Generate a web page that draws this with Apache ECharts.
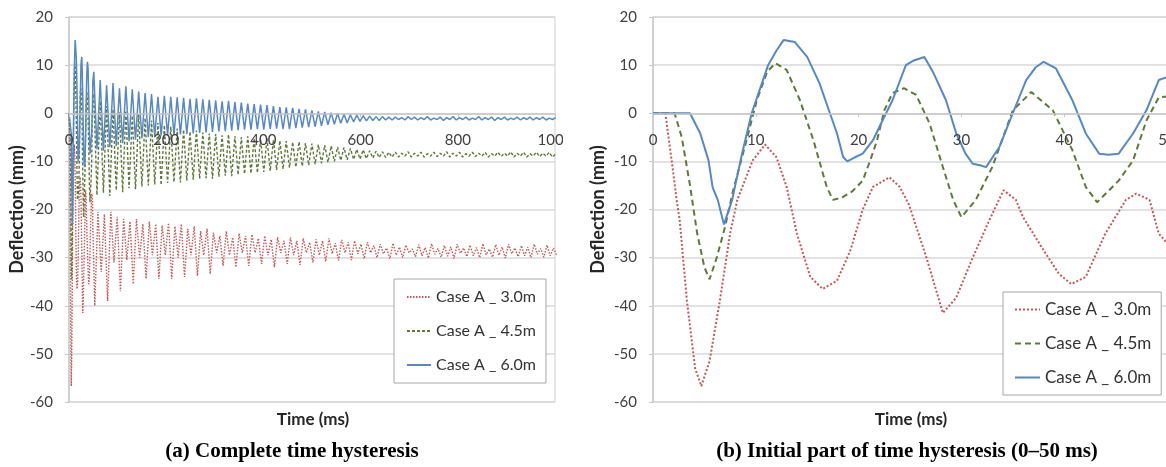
<!DOCTYPE html>
<html><head><meta charset="utf-8">
<script src="https://cdn.jsdelivr.net/npm/echarts/dist/echarts.min.js"></script>
<style>
html,body{margin:0;padding:0;width:1166px;height:467px;overflow:hidden;background:#fff;}
#a{position:absolute;left:0;top:0;width:563px;height:467px;}
#b{position:absolute;left:563px;top:0;width:617px;height:467px;}
</style></head><body>
<div id="a"></div><div id="b"></div>
<script>
// ---- data: series names ----
const seriesNames = ['Case A _ 3.0m', 'Case A _ 4.5m', 'Case A _ 6.0m'];
const yTicks = [-60, -50, -40, -30, -20, -10, 0, 10, 20];
const xTicksLong = [0, 200, 400, 600, 800, 1000];
const xTicksShort = [0, 10, 20, 30, 40, 50];
const captionA = '(a) Complete time hysteresis';
const captionB = '(b) Initial part of time hysteresis (0\u201350 ms)';

// ---- first 50 ms, [time ms, deflection mm] ----
const red50 = [[0,0],[1.2,0],[1.9,-11.2],[2.3,-18],[2.6,-22.3],[3.3,-39],[4.1,-53],[4.7,-56.7],[5.5,-51.5],[6.5,-39],[7.5,-25],[8.2,-18],[9.7,-9.8],[10.9,-6.5],[12,-9.1],[13,-15.3],[14,-25],[15.3,-34],[16.5,-36.5],[17.9,-34.8],[19.2,-28.5],[20.4,-20],[21.4,-15.3],[23,-13.3],[24,-15.3],[24.9,-19],[26.6,-30],[28.2,-41.5],[29.5,-38.3],[31.1,-30],[32.7,-22.3],[34.1,-16],[35.3,-18],[36,-21.6],[38,-28.5],[39.5,-33.4],[40.7,-35.5],[42.1,-34],[44,-25],[46,-18],[47,-16.7],[48.3,-18],[49.2,-25],[50,-27]];
const green50 = [[0,0],[2.1,0],[2.8,-5],[3.6,-15],[4.3,-25],[5.0,-32],[5.5,-34.5],[6.2,-30],[7.0,-23.7],[7.8,-16],[9.1,-5.6],[10.1,2.7],[11.1,8.6],[11.9,10.4],[13.0,9],[14.3,2.7],[15.6,-5.6],[16.9,-15.3],[17.5,-18],[18.4,-17.5],[19.4,-16.2],[20.4,-14],[21.1,-10],[21.8,-5.6],[22.5,0.6],[23.3,4.2],[24.4,5.2],[25.6,3.8],[26.9,-2.1],[28.2,-11.2],[29.2,-18],[30,-21.6],[31.4,-18],[33,-11.2],[35,0.6],[36.8,4.4],[38.9,0.6],[40.8,-7.7],[42.1,-15.3],[43.2,-18.5],[45.3,-14],[46.7,-9.8],[48,-1.5],[49.2,3.3],[50,3.5]];
const blue50 = [[0,0],[3.6,0],[4.6,-4.2],[5.4,-9.8],[5.8,-15.4],[6.3,-18],[6.9,-23.1],[7.7,-18],[8.6,-9],[9.6,0],[10.4,5],[11.2,10],[12.0,13],[12.7,15.2],[13.8,14.8],[15.0,11.7],[16.2,6.2],[17.0,1.3],[17.9,-4.2],[18.5,-9.1],[18.9,-10],[19.6,-9.2],[20.4,-8.4],[21.4,-5.6],[22.1,-2.5],[23.3,2.7],[24.6,10],[25.3,10.9],[26.4,11.7],[27.3,8.3],[28.5,2.7],[29.5,-4.2],[30.4,-8.4],[31.1,-10.5],[31.8,-10.8],[32.4,-11.2],[33.7,-7],[35.0,0],[36.3,6.9],[37.2,9.5],[38.0,10.7],[39.2,9.3],[40.8,2.7],[42.1,-4.2],[43.4,-8.4],[44.3,-8.6],[45.3,-8.4],[46.7,-4.2],[48.0,0.6],[49.2,6.9],[50,7.5]];

// ---- after 50 ms: successive extremes (half-cycle samples) ----
const halfCycleMs = 6.6;
const redStartMs = 53, greenStartMs = 51, blueStartMs = 51;
const redLong = [-40.0,-20.5,-33.0,-21.0,-39.0,-20.5,-31.0,-21.5,-37.0,-22.0,-30.5,-22.5,-35.5,-22.0,-30.0,-23.0,-34.4,-22.5,-29.5,-23.0,
 -34.4,-23.3,-29.5,-22.8,-34.4,-23.5,-30.0,-23.0,-34.0,-24.0,-29.5,-23.5,-33.8,-24.5,-29.5,-24.0,-33.4,-24.8,-29.0,-25.5,
 -31.7,-24.5,-29.5,-25.8,-32.0,-25.0,-29.0,-25.5,-31.7,-25.2,-29.0,-26.0,-31.3,-25.5,-29.5,-26.2,-32.0,-25.8,-29.0,-26.5,
 -31.3,-25.8,-29.5,-26.5,-31.5,-26.0,-29.0,-26.8,-31.0,-26.2,-29.5,-26.5,-30.8,-26.0,-29.2,-27.0,-30.6,-26.3,-29.0,-26.8,
 -30.5,-26.5,-29.2,-27.2,-30.2,-26.8,-29.0,-27.5,-30.0,-27.2,-29.2,-28.0,-30.2,-27.0,-29.5,-27.8,-30.0,-27.4,-29.0,-28.2,
 -29.8,-27.3,-29.6,-27.9,-30.1,-27.1,-29.3,-28.1,-29.9,-27.5,-29.7,-27.8,-30.2,-27.2,-29.1,-28.0,-29.8,-27.4,-29.6,-27.9,
 -30.0,-27.1,-29.4,-28.2,-29.9,-27.3,-29.5,-27.8,-30.1,-27.2,-29.2,-28.0,-29.8,-27.5,-29.6,-27.8,-30.0,-27.2,-29.3,-28.1,
 -29.9,-27.4,-29.6,-28.0,-29.5];
const greenLong = [4.0,-17.0,2.5,-16.5,1.5,-17.2,0.8,-16.0,0.2,-16.4,0.5,-15.6,-0.5,-15.8,-0.2,-15.2,-1.0,-15.0,-1.5,-14.8,
 -2.0,-14.9,-2.5,-14.5,-2.8,-14.3,-3.2,-14.4,-3.4,-14.0,-3.8,-13.8,-3.6,-13.6,-4.0,-13.5,-4.2,-13.6,-4.3,-13.2,
 -4.6,-13.0,-4.4,-13.1,-4.8,-12.8,-5.0,-12.6,-4.8,-12.5,-5.2,-12.4,-5.3,-12.2,-5.2,-12.0,-5.5,-11.8,-5.7,-11.6,
 -5.8,-11.3,-6.0,-11.2,-5.9,-11.0,-6.2,-10.8,-6.3,-10.6,-6.5,-10.4,-6.6,-10.2,-6.8,-10.0,-7.0,-9.8,-7.1,-9.7,
 -7.3,-9.6,-7.5,-9.5,-7.6,-9.4,-7.8,-9.3,-7.9,-9.2,-8.0,-9.2,-8.1,-9.1,-8.1,-9.1,-8.3,-8.9,-8.0,-9.1,
 -8.3,-8.9,-8.1,-9.1,-8.4,-8.9,-8.1,-9.0,-8.3,-8.9,-8.0,-9.1,-8.3,-8.9,-8.1,-9.1,-8.4,-8.9,-8.1,-9.0,
 -8.3,-8.9,-8.1,-9.1,-8.4,-8.9,-8.1,-9.0,-8.3,-8.9,-8.0,-9.1,-8.3,-8.9,-8.1,-9.1,-8.4,-8.9,-8.1,-9.0,
 -8.3,-8.9,-8.1,-9.1,-8.5];
const blueLong = [8.6,-7.5,6.9,-7.8,5.8,-7.0,6.3,-6.8,5.2,-6.2,5.6,-5.8,5.0,-5.5,4.5,-5.2,4.2,-5.0,4.0,-4.8,
 3.4,-4.6,3.6,-4.6,3.4,-4.5,3.3,-4.4,3.2,-4.3,3.0,-4.2,3.1,-4.1,2.9,-4.0,2.8,-3.9,2.7,-3.8,
 2.5,-3.7,2.6,-3.6,2.3,-3.5,2.2,-3.4,2.0,-3.4,1.9,-3.3,1.8,-3.4,1.7,-3.3,1.5,-3.2,1.3,-3.3,
 1.2,-3.3,1.1,-3.1,0.9,-3.0,0.8,-2.9,0.6,-2.8,0.4,-2.6,0.3,-2.4,0.1,-2.3,0.0,-2.1,-0.2,-2.0,
 -0.3,-1.8,-0.4,-1.7,-0.5,-1.6,-0.6,-1.5,-0.7,-1.5,-0.7,-1.4,-0.8,-1.4,-0.8,-1.3,-0.9,-1.4,-0.7,-1.3,
 -0.8,-1.4,-0.9,-1.3,-0.7,-1.4,-1.0,-1.3,-0.8,-1.5,-0.9,-1.3,-0.7,-1.4,-0.9,-1.3,-0.8,-1.4,-1.0,-1.3,
 -0.7,-1.4,-0.9,-1.3,-0.8,-1.5,-0.9,-1.3,-0.8,-1.4,-1.0,-1.3,-0.8,-1.4,-0.9,-1.3,-0.8,-1.4,-0.9,-1.3,
 -0.8,-1.4,-1.0,-1.3,-0.9];

// ---- build full-length series ----
function joinSeries(early, startMs, vals){
  const out = early.slice();
  vals.forEach(function(v, i){ out.push([startMs + i * halfCycleMs, v]); });
  return out;
}
const redFull = joinSeries(red50, redStartMs, redLong);
const greenFull = joinSeries(green50, greenStartMs, greenLong);
const blueFull = joinSeries(blue50, blueStartMs, blueLong);

const colors = ['#c4585a', '#5f793b', '#5689c4'];
const FONT = 'Lato, "Open Sans", sans-serif';
const GRID_TOP = 17, GRID_BOTTOM = 65, CHART_H = 467;

function makeOption(cfg){
  const widths = cfg.widths, dashes = cfg.dashes;
  const data = cfg.data;
  const yMin = yTicks[0], yMax = yTicks[yTicks.length - 1];
  const plotH = CHART_H - GRID_TOP - GRID_BOTTOM;
  // x axis crosses the value axis at 0 (Excel style)
  const zeroOffset = -plotH * (0 - yMin) / (yMax - yMin);
  return {
    animation: false,
    backgroundColor: '#fff',
    grid: { left: cfg.gridLeft, right: cfg.gridRight, top: GRID_TOP, bottom: GRID_BOTTOM, show: true,
      borderColor: '#cfcfcf', borderWidth: 1, containLabel: false, outerBoundsMode: 'none' },
    title: [
      { text: 'Time (ms)', left: cfg.timeX, top: 406, textAlign: 'center',
        textStyle: { fontFamily: FONT, fontWeight: 'bold', fontSize: 17, color: '#262626' } },
      { text: cfg.caption, left: cfg.capX, top: 436, textAlign: 'center',
        textStyle: { fontFamily: '"Liberation Serif", "Times New Roman", serif', fontWeight: 'bold', fontSize: 21, color: '#000' } }
    ],
    legend: {
      orient: 'vertical', left: cfg.legLeft, top: cfg.legTop,
      padding: cfg.legPad, itemGap: cfg.legGap, itemWidth: cfg.legIconW, itemHeight: 16,
      backgroundColor: '#fff', borderColor: '#a6a6a6', borderWidth: 1,
      itemStyle: { opacity: 0 },
      textStyle: { fontFamily: FONT, fontSize: cfg.legFont, color: '#333' },
      data: seriesNames
    },
    xAxis: {
      type: 'value', position: 'bottom', offset: zeroOffset,
      min: cfg.xTicks[0], max: cfg.xTicks[cfg.xTicks.length - 1], interval: cfg.xTicks[1] - cfg.xTicks[0],
      z: 10,
      axisLine: { onZero: false, lineStyle: { color: '#c8c8c8', width: 1.5 } },
      axisTick: { show: true, length: 4, lineStyle: { color: '#c8c8c8' } },
      splitLine: { show: false },
      axisLabel: { margin: 19, fontFamily: FONT, fontSize: 15, color: '#404040',
        formatter: function(v){ return String(v); } }
    },
    yAxis: {
      type: 'value', min: yMin, max: yMax, interval: yTicks[1] - yTicks[0],
      name: 'Deflection (mm)', nameLocation: 'middle', nameGap: cfg.nameGap, nameRotate: 90,
      nameMoveOverlap: false,
      nameTextStyle: { fontFamily: FONT, fontWeight: 'bold', fontSize: 18, color: '#262626' },
      axisLine: { show: true, onZero: false, lineStyle: { color: '#c8c8c8', width: 1.5 } },
      axisTick: { show: true, length: 4, lineStyle: { color: '#c8c8c8' } },
      splitLine: { lineStyle: { color: '#d9d9d9', width: 1.5 } },
      axisLabel: { margin: 16, fontFamily: FONT, fontSize: 15, color: '#404040' }
    },
    series: seriesNames.map(function(n, i){
      return { name: n, type: 'line', data: data[i], showSymbol: false, symbol: 'none', clip: true,
        lineStyle: { color: colors[i], width: widths[i], type: dashes[i] },
        itemStyle: { color: colors[i], opacity: 0 } };
    })
  };
}

const chartA = echarts.init(document.getElementById('a'), null, { renderer: 'canvas' });
chartA.setOption(makeOption({
  gridLeft: 69, gridRight: 8, xTicks: xTicksLong, data: [redFull, greenFull, blueFull],
  widths: [1.4, 1.4, 1.5], dashes: [[1.5, 1.5], [3, 2], 'solid'],
  timeX: 308, capX: 287, caption: captionA, nameGap: 43,
  legLeft: 394, legTop: 279, legPad: [10, 10, 10, 12], legGap: 18, legIconW: 24, legFont: 16
}));

const chartB = echarts.init(document.getElementById('b'), null, { renderer: 'canvas' });
chartB.setOption(makeOption({
  gridLeft: 90, gridRight: 13, xTicks: xTicksShort, data: [red50, green50, blue50],
  widths: [2, 2, 2], dashes: [[2, 2], [6, 4], 'solid'],
  timeX: 343, capX: 339, caption: captionB, nameGap: 46,
  legLeft: 440, legTop: 292, legPad: [9, 10, 9, 11], legGap: 17, legIconW: 25, legFont: 17
}));
</script></body></html>
